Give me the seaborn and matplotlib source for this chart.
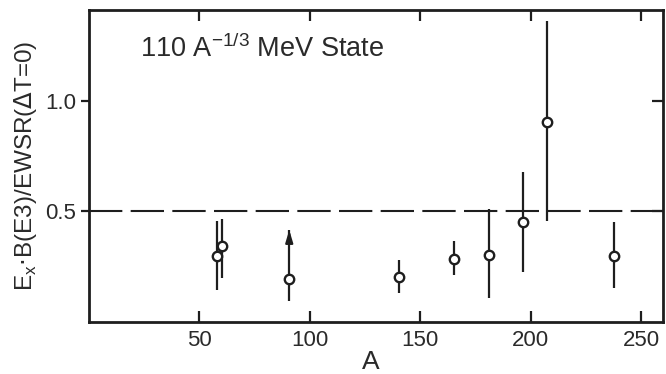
import numpy as np
import pandas as pd
import matplotlib
matplotlib.use("Agg")
import matplotlib.pyplot as plt
import seaborn as sns

# data
mass_A = [58.0, 60.1, 90.7, 140.4, 165.3, 181.0, 196.6, 207.6, 237.8]
ratio = [0.30, 0.345, 0.195, 0.202, 0.285, 0.304, 0.453, 0.905, 0.30]
err_low = [0.145, 0.20, 0.097, 0.131, 0.213, 0.107, 0.228, 0.458, 0.152]
err_high = [0.455, 0.466, 0.416, 0.28, 0.365, 0.511, 0.676, 1.361, 0.453]
lower_limit = [False, False, True, False, False, False, False, False, False]
ref_level = 0.5
xticks = [50, 100, 150, 200, 250]
yticks = [0.5, 1.0]

sns.set_theme(style="ticks")
plt.rcParams['font.family'] = ['Liberation Sans', 'DejaVu Sans']
ink = "#1e1e1e"
txt = "#2a2a2a"

df = pd.DataFrame({"A": mass_A, "r": ratio, "lo": err_low, "hi": err_high, "lim": lower_limit})

fig = plt.figure(figsize=(6.66, 3.74), dpi=100)
ax = fig.add_axes([0.1336, 0.139, 0.862, 0.834])

# error bars
for _, row in df.iterrows():
    if row["lim"]:
        ax.errorbar([row["A"]], [row["lo"]], yerr=[[0], [row["hi"] - row["lo"]]],
                    fmt="none", ecolor=ink, elinewidth=1.6, capsize=0, zorder=2)
        ax.annotate("", xy=(row["A"], row["hi"]), xytext=(row["A"], row["hi"] - 0.06),
                    arrowprops=dict(arrowstyle="-|>,head_length=0.6,head_width=0.18",
                                    color=ink, lw=1.6, shrinkA=0, shrinkB=0), zorder=3)
    else:
        ax.errorbar([row["A"]], [row["r"]],
                    yerr=[[row["r"] - row["lo"]], [row["hi"] - row["r"]]],
                    fmt="none", ecolor=ink, elinewidth=1.6, capsize=0, zorder=2)

sns.scatterplot(data=df, x="A", y="r", ax=ax, marker="o", s=46,
                facecolor="white", edgecolor=ink, linewidth=1.7, zorder=4, legend=False)

ax.axhline(ref_level, color=ink, lw=1.5, dashes=(16, 4), zorder=1)

ax.set_xlim(0, 260)
ax.set_ylim(0, 1.41)
ax.set_xticks(xticks)
ax.set_yticks(yticks)
ax.set_xticklabels([str(t) for t in xticks])
ax.set_yticklabels(["0.5", "1.0"])

for s in ax.spines.values():
    s.set_color(ink)
    s.set_linewidth(2.0)

ax.tick_params(axis="x", direction="in", length=8, width=1.6, colors=ink,
               labelsize=16, pad=6, top=True, labelcolor=txt)
ax.tick_params(axis="y", direction="out", length=6, width=1.6, colors=ink,
               labelsize=16, pad=3, labelcolor=txt, right=False)
ax2 = ax.secondary_yaxis("right")
ax2.set_yticks(yticks)
ax2.tick_params(direction="in", length=8, width=1.6, colors=ink, labelright=False)
ax2.spines["right"].set_visible(False)

ax.set_xlabel("A", fontsize=19, color=txt, labelpad=0)
ax.xaxis.set_label_coords(0.49, -0.09)
ax.set_ylabel(r"E$_\mathregular{x}$$\cdot$B(E3)/EWSR($\Delta$T=0)", fontsize=17.5,
              color=txt, labelpad=5)

ax.text(0.089, 0.849, r"110 A$^\mathregular{-1/3}$ MeV State", transform=ax.transAxes,
        fontsize=19.5, color=txt, ha="left", va="baseline")

fig.savefig("out.png", dpi=100, facecolor="white")
